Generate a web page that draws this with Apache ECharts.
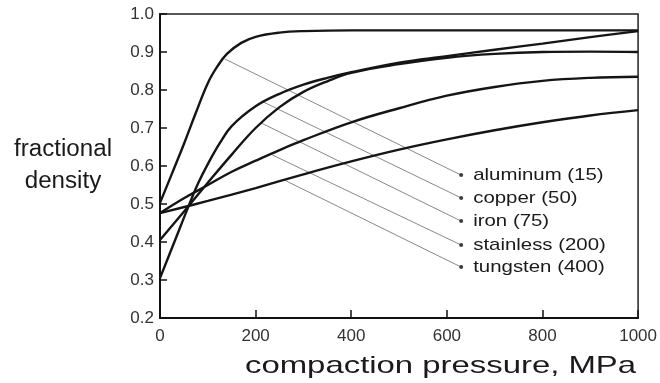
<!DOCTYPE html>
<html>
<head>
<meta charset="utf-8">
<script src="https://cdn.jsdelivr.net/npm/echarts@6/dist/echarts.min.js"></script>
<style>
  html, body { margin: 0; padding: 0; background: #fff; }
  #main { width: 660px; height: 383px; }
</style>
</head>
<body>
<div id="main"></div>
<script>
// densification curves, [pressure MPa, fractional density]
var aluminum = [[0,0.503],[25,0.58],[50,0.658],[75,0.74],[100,0.818],[120,0.862],[140,0.895],[170,0.924],[200,0.94],[250,0.951],[300,0.955],[400,0.957],[600,0.957],[800,0.957],[1000,0.957]];
var copper = [[0,0.305],[30,0.40],[60,0.495],[80,0.555],[100,0.605],[125,0.66],[150,0.705],[200,0.757],[250,0.79],[300,0.814],[350,0.832],[400,0.847],[500,0.872],[600,0.889],[700,0.906],[800,0.922],[900,0.939],[1000,0.955]];
var iron = [[0,0.405],[30,0.45],[60,0.495],[100,0.556],[150,0.63],[200,0.70],[250,0.755],[300,0.795],[350,0.823],[400,0.845],[500,0.868],[600,0.885],[700,0.895],[800,0.90],[900,0.901],[1000,0.90]];
var stainless = [[0,0.476],[50,0.515],[100,0.55],[150,0.585],[200,0.614],[250,0.642],[300,0.668],[400,0.715],[500,0.752],[600,0.785],[700,0.808],[800,0.824],[900,0.832],[1000,0.835]];
var tungsten = [[0,0.476],[100,0.508],[200,0.542],[300,0.578],[400,0.612],[500,0.643],[600,0.67],[700,0.694],[800,0.715],[900,0.733],[1000,0.747]];

// labels and their leader lines (start on curve -> dot)
var labelNames = ['aluminum (15)', 'copper (50)', 'iron (75)', 'stainless (200)', 'tungsten (400)'];
var leaderStart = [[135,0.882],[212,0.771],[212,0.713],[235,0.629],[260,0.563]];
var leaderEnd = [[630,0.576],[630,0.516],[630,0.455],[630,0.392],[630,0.334]];

var xTicks = [0, 200, 400, 600, 800, 1000];
var yTicks = [0.2, 0.3, 0.4, 0.5, 0.6, 0.7, 0.8, 0.9, 1.0];

var curves = [aluminum, copper, iron, stainless, tungsten];
var FONT = 'Liberation Sans';

var series = [];
// thin leader lines first, so curves sit on top
for (var i = 0; i < labelNames.length; i++) {
  series.push({
    type: 'line',
    data: [leaderStart[i], leaderEnd[i]],
    symbol: 'none',
    silent: true,
    lineStyle: { color: '#6a6a6a', width: 0.8 },
    z: 2
  });
}
curves.forEach(function (c) {
  series.push({
    type: 'line',
    data: c,
    smooth: 0.4,
    symbol: 'none',
    lineStyle: { color: '#151515', width: 2.4 },
    z: 3
  });
});
// label dots
series.push({
  type: 'scatter',
  data: leaderEnd,
  symbolSize: 4,
  itemStyle: { color: '#111' },
  z: 4
});

var myChart = echarts.init(document.getElementById('main'));
myChart.setOption({
  animation: false,
  textStyle: { fontFamily: FONT },
  grid: {
    left: 160, right: 19, top: 14, bottom: 65,
    show: true, borderColor: '#222', borderWidth: 1.5, backgroundColor: 'transparent'
  },
  xAxis: {
    type: 'value',
    min: xTicks[0], max: xTicks[xTicks.length - 1], interval: 200,
    axisLine: { show: true, onZero: false, lineStyle: { color: '#111', width: 2 } },
    axisTick: { show: true, inside: true, length: 8, lineStyle: { color: '#111', width: 1.5 } },
    axisLabel: { color: '#333', fontSize: 17, margin: 10, formatter: function (v) { return String(v); } },
    splitLine: { show: false }
  },
  yAxis: {
    type: 'value',
    min: yTicks[0], max: yTicks[yTicks.length - 1], interval: 0.1,
    axisLine: { show: true, onZero: false, lineStyle: { color: '#111', width: 2 } },
    axisTick: { show: true, inside: true, length: 7, lineStyle: { color: '#111', width: 1.5 } },
    axisLabel: { color: '#333', fontSize: 17, margin: 6, formatter: function (v) { return v.toFixed(1); } },
    splitLine: { show: false }
  },
  series: series
});

// texts: the scan is stretched sideways, so the words are widened with scaleX
var graphics = [
  {
    type: 'text', x: 245, y: 366, scaleX: 1.37,
    style: { text: 'compaction pressure, MPa', font: '24px ' + FONT, fill: '#1a1a1a', textVerticalAlign: 'middle' }
  },
  {
    type: 'text', x: 63, y: 150, scaleX: 1.05,
    style: { text: 'fractional', font: '23px ' + FONT, fill: '#1a1a1a', textAlign: 'center', textVerticalAlign: 'middle' }
  },
  {
    type: 'text', x: 63, y: 182, scaleX: 1.05,
    style: { text: 'density', font: '23px ' + FONT, fill: '#1a1a1a', textAlign: 'center', textVerticalAlign: 'middle' }
  }
];
leaderEnd.forEach(function (p, i) {
  var px = myChart.convertToPixel({ gridIndex: 0 }, p);
  graphics.push({
    type: 'text', x: px[0] + 12, y: px[1], scaleX: 1.2,
    style: { text: labelNames[i], font: '17px ' + FONT, fill: '#1a1a1a', textVerticalAlign: 'middle' }
  });
});
myChart.setOption({ graphic: graphics });
</script>
</body>
</html>
